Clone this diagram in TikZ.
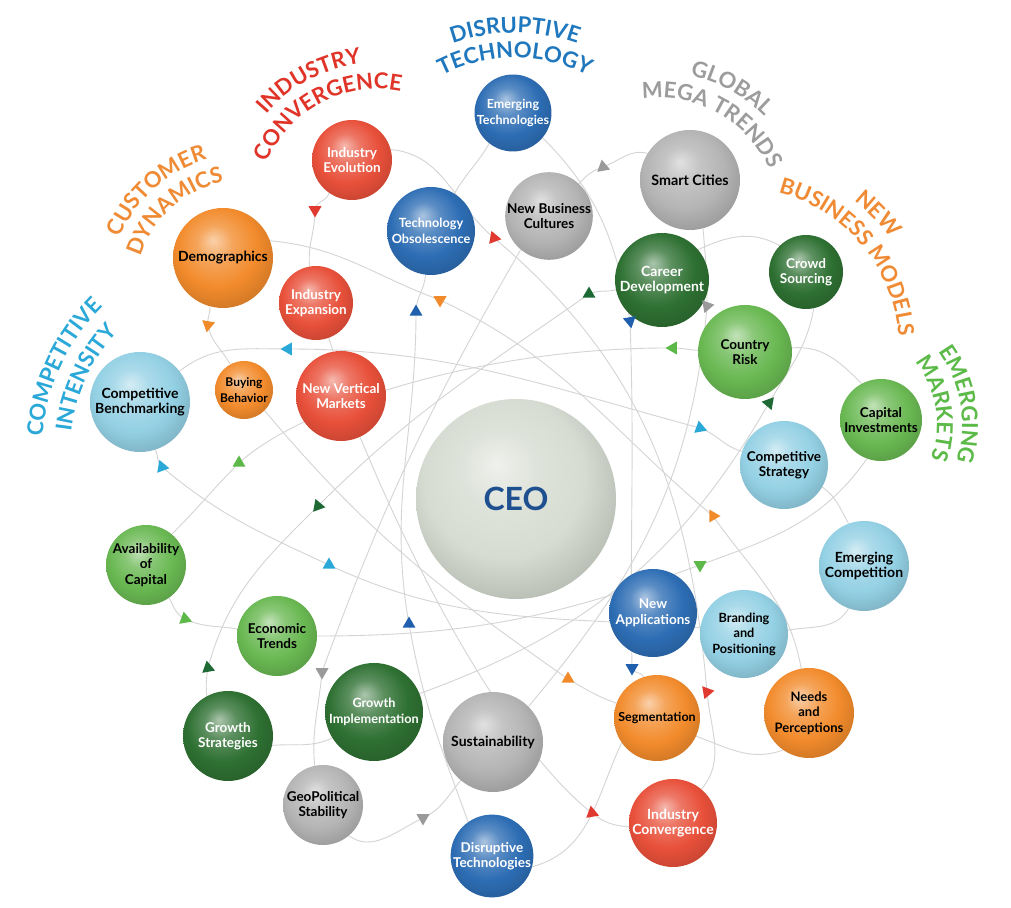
\documentclass[tikz,border=0pt]{standalone}
\usepackage{fontspec}
\setmainfont{Lato}
\usetikzlibrary{shapes.geometric,decorations.text,backgrounds}
\definecolor{blueB}{HTML}{2D6DB4}
\definecolor{redB}{HTML}{E8503A}
\definecolor{orangeB}{HTML}{F28B2C}
\definecolor{greyB}{HTML}{B4B4B4}
\definecolor{dgreenB}{HTML}{2E7032}
\definecolor{greenB}{HTML}{69B852}
\definecolor{lblueB}{HTML}{93D0E4}
\definecolor{ceoB}{HTML}{D6DCD1}
\definecolor{ceoT}{HTML}{1E4F8F}
\definecolor{hblue}{HTML}{1F78BE}
\definecolor{hred}{HTML}{E03428}
\definecolor{horange}{HTML}{F08B35}
\definecolor{hcyan}{HTML}{2AA8D8}
\definecolor{hgrey}{HTML}{9C9C9C}
\definecolor{hgreen}{HTML}{5CBA48}
\definecolor{mred}{HTML}{E03A30}
\definecolor{morange}{HTML}{F08A2A}
\definecolor{mblue}{HTML}{1F5FAE}
\definecolor{mcyan}{HTML}{2AA8D8}
\definecolor{mgrey}{HTML}{9A9A9A}
\definecolor{mdgreen}{HTML}{1E6A35}
\definecolor{mgreen}{HTML}{5CB848}
\colorlet{bubblecol}{gray}
\pgfdeclareradialshading[bubblecol]{bubble}{\pgfpoint{-5bp}{9bp}}{%
 color(0bp)=(bubblecol!40!white);
 color(9bp)=(bubblecol!78!white);
 color(20bp)=(bubblecol);
 color(30bp)=(bubblecol!86!black);
 color(50bp)=(bubblecol!80!black)}
\newcommand\hfnt{\fontsize{22}{22}\selectfont\bfseries}
\newcommand\bfnt[1][13.5]{\fontsize{#1}{15.5}\selectfont\bfseries}
\newcommand\headline[6]{\path[decorate,decoration={text along path,text align=center,text color=#5,text={|\hfnt|#6}}] (#1) ++({#3+#4}:#2) arc[start angle={#3+#4},end angle={#3-#4},radius=#2];}
\tikzset{
 bcol/.code={\colorlet{bubblecol}{#1}},
 bub/.style={circle,inner sep=0pt,align=center,font=\bfnt,text=black,bcol=#1,shading=bubble},
 fs/.style={font=\bfnt[#1]},
 tw/.style={text=white},
 mk/.style={regular polygon,regular polygon sides=3,inner sep=0pt,minimum size=15pt,fill=#1},
 conn/.style={draw=black!17,line width=0.9pt}
}
\begin{document}
\begin{tikzpicture}[x=1pt,y=1pt]
\useasboundingbox (0,0) rectangle (1011,907);
% headings
\headline{515,689}{185}{90}{50}{hblue}{DISRUPTIVE}
\headline{515,689}{160}{90}{60}{hblue}{TECHNOLOGY}
\headline{377,699}{145}{118}{55}{hred}{INDUSTRY}
\headline{377,699}{119}{118}{75}{hred}{CONVERGENCE}
\headline{245,618}{135}{132}{55}{horange}{CUSTOMER}
\headline{245,618}{109}{132}{65}{horange}{DYNAMICS}
\headline{245,455}{203}{155}{45}{hcyan}{COMPETITIVE}
\headline{245,455}{175}{155}{45}{hcyan}{INTENSITY}
\headline{659,688}{147}{61}{45}{hgrey}{GLOBAL}
\headline{659,688}{121}{61}{75}{hgrey}{MEGA TRENDS}
\headline{739,559}{187}{44}{30}{horange}{NEW}
\headline{739,559}{160}{40}{60}{horange}{BUSINESS MODELS}
\headline{836,482}{126}{9.5}{60}{hgreen}{EMERGING}
\headline{836,482}{101}{9.5}{65}{hgreen}{MARKETS}
% bubbles
\node[bub=ceoB,minimum size=200pt,font=\fontsize{32}{32}\selectfont\bfseries,text=ceoT] (ceo) at (516,408) {CEO};
\node[bub=blueB,tw,fs=12.5,minimum size=74pt] (emtech) at (513,794) {Emerging\\Technologies};
\node[bub=redB,tw,minimum size=80pt] (indevo) at (352,747) {Industry\\Evolution};
\node[bub=blueB,tw,fs=12.7,minimum size=88pt] (techobs) at (431,676) {Technology\\Obsolescence};
\node[bub=greyB,minimum size=86pt] (nbc) at (549,691) {New Business\\Cultures};
\node[bub=greyB,fs=14.3,minimum size=100pt] (smart) at (690,727) {Smart Cities};
\node[bub=orangeB,fs=14,minimum size=100pt] (demo) at (223,649) {Demographics};
\node[bub=redB,tw,minimum size=74pt] (indexp) at (316,604) {Industry\\Expansion};
\node[bub=dgreenB,tw,fs=14,minimum size=94pt] (career) at (662,627) {Career\\Development};
\node[bub=dgreenB,tw,minimum size=74pt] (crowd) at (806,635) {Crowd\\Sourcing};
\node[bub=greenB,minimum size=94pt] (risk) at (745,555) {Country\\Risk};
\node[bub=lblueB,fs=14,minimum size=100pt] (bench) at (140,505) {Competitive\\Benchmarking};
\node[bub=orangeB,fs=12,minimum size=58pt] (buying) at (244,517) {Buying\\Behavior};
\node[bub=redB,tw,minimum size=90pt] (nvm) at (341,511) {New Vertical\\Markets};
\node[bub=greenB,minimum size=82pt] (capinv) at (881,487) {Capital\\Investments};
\node[bub=lblueB,minimum size=88pt] (compstrat) at (784,442) {Competitive\\Strategy};
\node[bub=greenB,minimum size=80pt] (avail) at (146,342) {Availability\\of\\Capital};
\node[bub=lblueB,fs=14,minimum size=90pt] (emcomp) at (864,341) {Emerging\\Competition};
\node[bub=greenB,minimum size=80pt] (econ) at (277,271) {Economic\\Trends};
\node[bub=blueB,tw,minimum size=88pt] (newapp) at (653,294) {New\\Applications};
\node[bub=lblueB,fs=12.7,minimum size=88pt] (brand) at (744,273) {Branding\\and\\Positioning};
\node[bub=dgreenB,tw,fs=12.7,minimum size=98pt] (growimp) at (374,195) {Growth\\Implementation};
\node[bub=dgreenB,tw,minimum size=90pt] (growstrat) at (228,171) {Growth\\Strategies};
\node[bub=greyB,fs=14,minimum size=100pt] (sustain) at (493,165) {Sustainability};
\node[bub=orangeB,fs=12.5,minimum size=86pt] (segment) at (657,189) {Segmentation};
\node[bub=orangeB,fs=13,minimum size=90pt] (needs) at (809,194) {Needs\\and\\Perceptions};
\node[bub=greyB,minimum size=80pt] (geo) at (323,102) {GeoPolitical\\Stability};
\node[bub=blueB,tw,minimum size=82pt] (disrtech) at (492,51) {Disruptive\\Technologies};
\node[bub=redB,tw,fs=14,minimum size=88pt] (indconv) at (673,84) {Industry\\Convergence};
% markers
\node[mk=mred,rotate=180] (ma) at (315,697) {};
\node[mk=mred,rotate=-100] (mb) at (494,669) {};
\node[mk=morange,rotate=180] (mc) at (440,607) {};
\node[mk=mblue] (md) at (416,595) {};
\node[mk=mcyan,rotate=90] (me) at (288,558) {};
\node[mk=morange,rotate=170] (mf) at (208,582) {};
\node[mk=mgrey,rotate=10] (mg) at (603,740) {};
\node[mk=mdgreen] (mh) at (589,613) {};
\node[mk=mgrey,rotate=160] (mi) at (707,601) {};
\node[mk=mblue,rotate=190] (mj) at (630,586) {};
\node[mk=mgreen,rotate=90] (mk) at (673,559) {};
\node[mk=mdgreen,rotate=200] (ml) at (769,504) {};
\node[mk=mcyan,rotate=10] (mm) at (700,479) {};
\node[mk=mcyan,rotate=20] (mn) at (162,440) {};
\node[mk=mgreen] (mo) at (239,444) {};
\node[mk=mdgreen,rotate=-100] (mp) at (318,401) {};
\node[mk=mcyan] (mq) at (329,342) {};
\node[mk=morange,rotate=-90] (mr) at (713,391) {};
\node[mk=mgreen,rotate=180] (ms) at (700,342) {};
\node[mk=mgreen,rotate=10] (mt) at (185,288) {};
\node[mk=mblue] (mu) at (409,283) {};
\node[mk=mdgreen,rotate=-110] (mv) at (208,239) {};
\node[mk=mgrey,rotate=180] (mw) at (322,235) {};
\node[mk=mblue,rotate=180] (mx) at (632,239) {};
\node[mk=morange] (my) at (568,228) {};
\node[mk=mred,rotate=-80] (mz) at (707,215) {};
\node[mk=mgrey,rotate=180] (maa) at (423,89) {};
\node[mk=mred,rotate=10] (mbb) at (592,94) {};
% connectors
\begin{scope}[on background layer]
\fill[white] (0,0) rectangle (1011,907);
\draw[conn] (indevo.-125) to[out=-100,in=90] (ma.center) to[out=-90,in=95] (indexp.100);
\draw[conn] (indevo.15) to[out=-5,in=140] (mb.center) to[out=-40,in=95] (mz.center) to[out=-85,in=50] (indconv.50);
\draw[conn] (nvm.-65) .. controls (430,300) and (520,150) .. (mbb.center) to[out=-40,in=175] (indconv.185);
\draw[conn] (demo.-105) to[out=-85,in=100] (mf.center) to[out=-80,in=120] (buying.118);
\draw[conn] (demo.20) to[out=-5,in=160] (mc.center) to[out=-25,in=140] (mr.center) to[out=-55,in=100] (needs.100);
\draw[conn] (buying.-45) to[out=-50,in=145] (my.center) to[out=-30,in=160] (segment.160);
\draw[conn] (segment.-25) to[out=-20,in=-160] (needs.-125);
\draw[conn] (segment.-145) to[out=-115,in=15] (disrtech.-15);
\draw[conn] (disrtech.125) to[out=110,in=-80] (mu.center) to[out=100,in=-90] (md.center) to[out=90,in=-95] (techobs.-97);
\draw[conn] (techobs.58) to[out=60,in=-120] (emtech.-128);
\draw[conn] (emtech.-40) to[out=-45,in=100] (mj.center) to[out=-88,in=91] (mx.center) to[out=-89,in=105] (segment.108);
\draw[conn] (compstrat.162) to[out=165,in=-20] (mm.center) to[out=165,in=0] (me.center) to[out=180,in=38] (bench.38);
\draw[conn] (bench.-72) to[out=-65,in=140] (mn.center) to[out=-40,in=155] (mq.center) to[out=-25,in=175] (brand.172);
\draw[conn] (compstrat.-30) to[out=-35,in=120] (emcomp.110);
\draw[conn] (brand.5) to[out=10,in=-120] (emcomp.-110);
\draw[conn] (avail.50) to[out=45,in=-135] (mo.center) .. controls (300,500) and (480,560) .. (mk.center) to[out=0,in=178] (risk.178);
\draw[conn] (risk.5) to[out=5,in=135] (capinv.118);
\draw[conn] (capinv.-110) to[out=-125,in=20] (ms.center) to[out=-160,in=0] (econ.0);
\draw[conn] (econ.170) to[out=170,in=-25] (mt.center) to[out=155,in=-60] (avail.-55);
\draw[conn] (career.192) to[out=195,in=25] (mh.center) to[out=-145,in=45] (mp.center) to[out=-135,in=75] (mv.center) to[out=-100,in=95] (growstrat.118);
\draw[conn] (career.40) to[out=25,in=150] (crowd.135);
\draw[conn] (crowd.-78) to[out=-100,in=60] (ml.center) to[out=-120,in=20] (growimp.22);
\draw[conn] (growstrat.-12) to[out=5,in=-155] (growimp.-148);
\draw[conn] (smart.148) to[out=165,in=20] (mg.center) to[out=-160,in=50] (nbc.47);
\draw[conn] (smart.-75) to[out=-85,in=90] (mi.center) to[out=-95,in=50] (sustain.45);
\draw[conn] (nbc.-130) to[out=-120,in=70] (mw.center) to[out=-95,in=95] (geo.102);
\draw[conn] (sustain.-130) to[out=-130,in=25] (maa.center) to[out=-155,in=-35] (geo.-50);
\draw[conn] (indexp.-70) -- (nvm.100);
\end{scope}
\end{tikzpicture}
\end{document}
